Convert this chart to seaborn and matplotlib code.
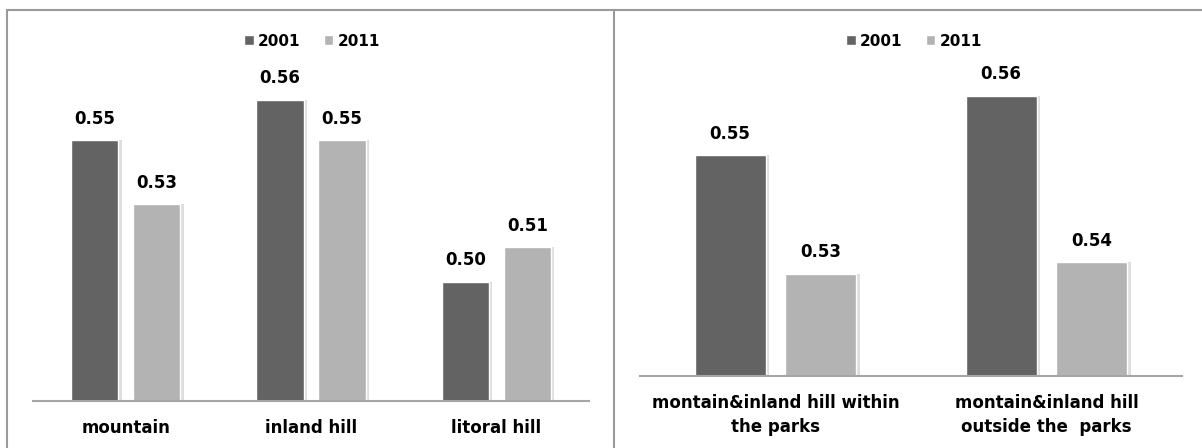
import matplotlib
matplotlib.use("Agg")
import matplotlib.pyplot as plt
import matplotlib.patheffects as pe
from matplotlib.lines import Line2D
import pandas as pd
import seaborn as sns

# data
years = ["2001", "2011"]
zones_left = ["mountain", "inland hill", "litoral hill"]
left_2001 = [0.550, 0.565, 0.497]
left_2011 = [0.526, 0.550, 0.510]

zones_right = ["montain&inland hill within\nthe parks", "montain&inland hill\noutside the  parks"]
right_2001 = [0.554, 0.564]
right_2011 = [0.534, 0.536]

colors = ["#636363", "#b3b3b3"]

sns.set_style("white")
plt.rcParams["font.family"] = ["DejaVu Sans"]
plt.rcParams["text.color"] = "black"
plt.rcParams["xtick.color"] = "black"

W, H = 1202, 448
fig = plt.figure(figsize=(W / 100, H / 100), dpi=100)


def make_df(zones, v1, v2):
    rows = []
    for z, a, b in zip(zones, v1, v2):
        rows.append({"zone": z, "year": years[0], "value": a})
        rows.append({"zone": z, "year": years[1], "value": b})
    return pd.DataFrame(rows)


def draw(ax, df, ylim, gap, label_pad, legend_x):
    sns.barplot(data=df, x="zone", y="value", hue="year", palette=colors,
                width=0.67, gap=gap, errorbar=None, ax=ax)
    shadow = [pe.SimplePatchShadow(offset=(2.5, 0), shadow_rgbFace="#d6d6d6", alpha=0.8),
              pe.Normal()]
    for cont in ax.containers:
        for p in cont:
            p.set_path_effects(shadow)
        ax.bar_label(cont, fmt="%.2f", padding=9, fontsize=12, fontweight="bold",
                     color="black")
    ax.set_ylim(*ylim)
    ax.set_xlim(-0.5, len(df["zone"].unique()) - 0.5)
    ax.set_xlabel("")
    ax.set_ylabel("")
    ax.set_yticks([])
    for s in ["top", "left", "right"]:
        ax.spines[s].set_visible(False)
    ax.spines["bottom"].set_color("#a6a6a6")
    ax.spines["bottom"].set_linewidth(1.5)
    ax.tick_params(axis="x", length=0, pad=label_pad, colors="black")
    for t in ax.get_xticklabels():
        t.set_fontweight("bold")
        t.set_fontsize(12)
        t.set_linespacing(1.45)
    leg = ax.legend(loc="center", bbox_to_anchor=(legend_x, 1 - 41 / H),
                    bbox_transform=fig.transFigure, ncol=2, frameon=False,
                    handlelength=0.6, handleheight=0.6, handletextpad=0.3,
                    columnspacing=1.5, prop={"weight": "bold", "size": 11})
    for t in leg.get_texts():
        t.set_color("black")
    return leg


# left panel
ax1 = fig.add_axes([33 / W, (H - 401) / H, (589 - 33) / W, (401 - 11) / H])
draw(ax1, make_df(zones_left, left_2001, left_2011),
     (0.4525, 0.4525 + 390 / 2676), 0.24, 13, 312 / W)

# right panel
ax2 = fig.add_axes([640 / W, (H - 376) / H, (1182 - 640) / W, (376 - 11) / H])
draw(ax2, make_df(zones_right, right_2001, right_2011),
     (0.5168, 0.5168 + 365 / 5933), 0.22, 13, 914 / W)

# panel frames
border = dict(color="#9a9a9a", linewidth=1.5, transform=fig.transFigure)
fig.add_artist(Line2D([7 / W, 1], [1 - 10.5 / H, 1 - 10.5 / H], **border))
fig.add_artist(Line2D([7 / W, 7 / W], [0, 1 - 10.5 / H], **border))
fig.add_artist(Line2D([614 / W, 614 / W], [0, 1 - 10.5 / H], **border))

fig.savefig("out.png", dpi=100)
